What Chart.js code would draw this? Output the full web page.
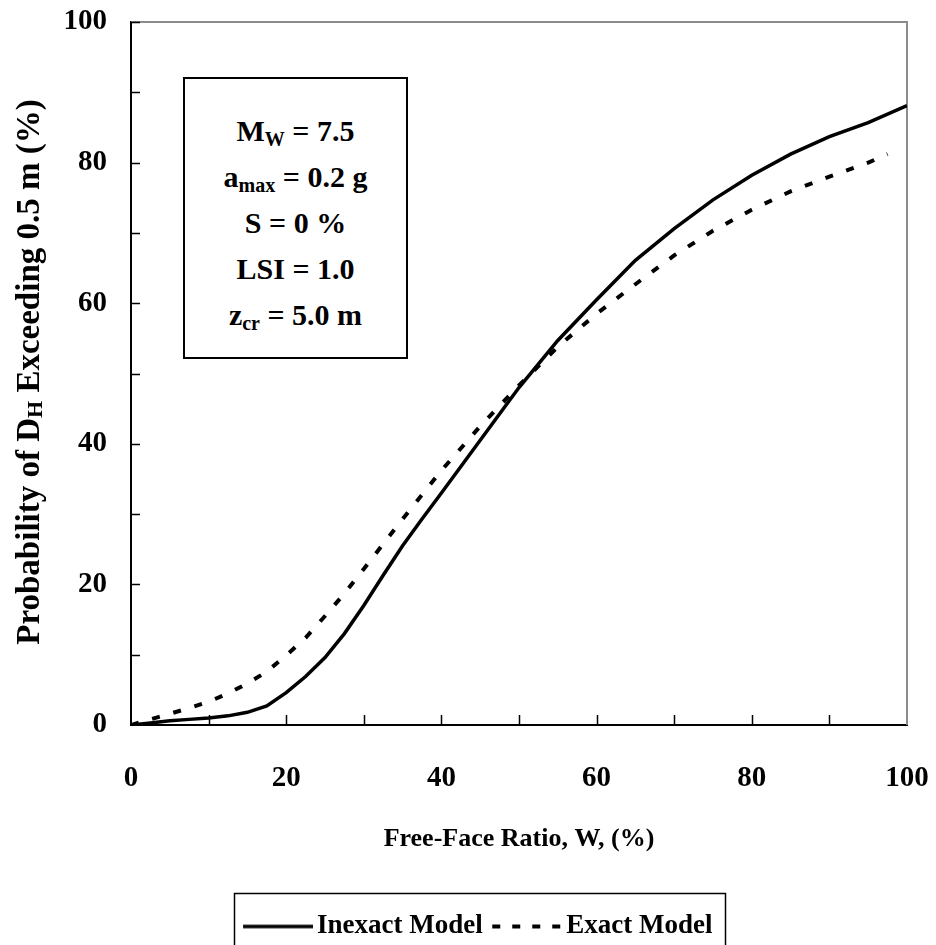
<!DOCTYPE html>
<html><head><meta charset="utf-8">
<script src="https://cdn.jsdelivr.net/npm/chart.js@4"></script>
<style>
html,body{margin:0;padding:0;background:#fff;}
#wrap{position:relative;width:936px;height:945px;overflow:hidden;background:#fff;}
#c{position:absolute;left:0;top:0;}
.box{position:absolute;left:183px;top:77px;width:225px;height:282px;box-sizing:border-box;border:2px solid #000;background:#fff;
 font-family:"Liberation Serif","Times New Roman",serif;font-weight:bold;font-size:30px;text-align:center;padding-top:29px;line-height:46px;color:#000;}
.box sub{font-size:20px;vertical-align:baseline;position:relative;top:5px;line-height:0;}
.ytitle{position:absolute;left:-272px;top:352px;width:600px;height:40px;line-height:40px;text-align:center;transform:rotate(-90deg);transform-origin:50% 50%;
 font-family:"Liberation Serif","Times New Roman",serif;font-weight:bold;font-size:33px;color:#000;white-space:nowrap;}
.ytitle sub{font-size:22px;vertical-align:baseline;position:relative;top:3px;line-height:0;}
</style></head>
<body>
<div id="wrap">
<canvas id="c" width="936" height="945"></canvas>
<div class="box">
<div>M<sub>W</sub> = 7.5</div>
<div>a<sub>max</sub> = 0.2 g</div>
<div>S = 0 %</div>
<div>LSI = 1.0</div>
<div>z<sub>cr</sub> = 5.0 m</div>
</div>
<div class="ytitle">Probability of D<sub>H</sub> Exceeding 0.5 m (%)</div>
</div>
<script>
const seriesNames = ['Inexact Model', 'Exact Model'];
const wInexact = [0, 2.5, 5, 7.5, 10, 12.5, 15, 17.5, 20, 22.5, 25, 27.5, 30, 32.5, 35, 37.5, 40, 45, 50, 55, 60, 65, 70, 75, 80, 85, 90, 95, 100];
const pInexact = [0, 0.3, 0.6, 0.8, 1.0, 1.3, 1.8, 2.7, 4.6, 6.9, 9.6, 13.0, 17.0, 21.3, 25.5, 29.3, 33.0, 40.5, 48.0, 54.7, 60.5, 66.1, 70.6, 74.7, 78.2, 81.2, 83.7, 85.7, 88.1];
const wExact = [0, 2.5, 5, 7.5, 10, 12.5, 15, 17.5, 20, 22.5, 25, 27.5, 30, 35, 40, 45, 50, 55, 60, 65, 70, 75, 80, 85, 90, 95, 97.5];
const pExact = [0, 0.8, 1.6, 2.4, 3.3, 4.5, 5.9, 7.6, 9.9, 12.4, 15.5, 18.7, 22.2, 29.3, 36.2, 42.5, 48.3, 53.8, 58.5, 62.7, 66.8, 70.3, 73.3, 75.9, 78.0, 80.0, 81.2];
const xTickValues = [0, 20, 40, 60, 80, 100];
const yTickValues = [0, 20, 40, 60, 80, 100];
const xTitle = 'Free-Face Ratio, W, (%)';

const FONT = '"Liberation Serif", "Times New Roman", serif';
const PLOT_BOTTOM = 725;
const PAD = {left: 49, right: 29, top: 22, bottom: -5};

const toPts = (xs, ys) => xs.map((x, i) => ({x: x, y: ys[i]}));

function sample(width, dash) {
  const cv = document.createElement('canvas');
  cv.width = 79; cv.height = 8;
  const g = cv.getContext('2d');
  g.strokeStyle = '#000';
  g.lineWidth = width;
  g.setLineDash(dash);
  g.beginPath(); g.moveTo(9, 4); g.lineTo(79, 4); g.stroke();
  return cv;
}

const frameTicks = {
  id: 'frameTicks',
  beforeDatasetsDraw(chart) {
    const {ctx, chartArea: a} = chart;
    ctx.save();
    ctx.strokeStyle = '#8c8c8c';
    ctx.lineWidth = 2;
    ctx.beginPath();
    ctx.moveTo(a.left, a.top); ctx.lineTo(a.right, a.top); ctx.lineTo(a.right, a.bottom);
    ctx.stroke();
    ctx.strokeStyle = '#000';
    ctx.lineWidth = 1.5;
    const xs = chart.scales.x, ys = chart.scales.y;
    ctx.beginPath();
    for (let v = 10; v < 100; v += 10) {
      const px = Math.round(xs.getPixelForValue(v)) + 0.5;
      ctx.moveTo(px, a.bottom); ctx.lineTo(px, a.bottom - 10);
    }
    for (let v = 10; v <= 100; v += 10) {
      const py = Math.round(ys.getPixelForValue(v)) + 0.5;
      ctx.moveTo(a.left, py); ctx.lineTo(a.left + 9, py);
    }
    ctx.stroke();
    ctx.restore();
  },
  afterDraw(chart) {
    const lg = chart.legend;
    if (!lg || !lg.legendHitBoxes || !lg.legendHitBoxes.length) return;
    const hb = lg.legendHitBoxes;
    const first = hb[0], last = hb[hb.length - 1];
    const left = first.left - 10, right = last.left + last.width + 12;
    const {ctx} = chart;
    ctx.save();
    ctx.strokeStyle = '#000';
    ctx.lineWidth = 1.5;
    ctx.strokeRect(Math.round(left) + 0.5, 893.5, Math.round(right - left), 80);
    ctx.restore();
  }
};

new Chart(document.getElementById('c'), {
  type: 'line',
  data: {
    datasets: [
      {label: seriesNames[0], data: toPts(wInexact, pInexact), borderColor: '#000', backgroundColor: '#000',
       borderWidth: 3.5, pointRadius: 0, pointStyle: sample(3.5, []), tension: 0, fill: false},
      {label: seriesNames[1], data: toPts(wExact, pExact), borderColor: '#000', backgroundColor: '#000',
       borderWidth: 4, borderDash: [8, 14], pointRadius: 0, pointStyle: sample(4, [8, 12]), tension: 0, fill: false}
    ]
  },
  options: {
    responsive: false,
    animation: false,
    devicePixelRatio: 1,
    layout: {padding: PAD},
    plugins: {
      tooltip: {enabled: false},
      legend: {
        position: 'bottom',
        labels: {
          usePointStyle: true, pointStyleWidth: 60,
          color: '#000', padding: 10,
          font: {family: FONT, weight: 'bold', size: 27}
        }
      }
    },
    scales: {
      x: {
        type: 'linear', min: 0, max: 100,
        afterFit(s) {
          const lgH = s.chart.legend ? s.chart.legend.height : 0;
          s.height = s.chart.height - PAD.bottom - PLOT_BOTTOM - lgH;
          s.paddingLeft = 0; s.paddingRight = 0;
        },
        afterBuildTicks(s) { s.ticks = xTickValues.map(v => ({value: v})); },
        grid: {display: true, drawOnChartArea: false, drawTicks: false},
        border: {display: true, color: '#000', width: 2},
        ticks: {color: '#000', padding: 36, font: {family: FONT, weight: 'bold', size: 29}},
        title: {display: true, text: xTitle, color: '#000', padding: {top: 0, bottom: 48}, font: {family: FONT, weight: 'bold', size: 26}}
      },
      y: {
        type: 'linear', min: 0, max: 100,
        afterFit(s) { s.width = 131 - PAD.left; s.paddingTop = 0; s.paddingBottom = 0; },
        afterBuildTicks(s) { s.ticks = yTickValues.map(v => ({value: v})); },
        grid: {display: true, drawOnChartArea: false, drawTicks: false},
        border: {display: true, color: '#000', width: 2},
        ticks: {color: '#000', padding: 24, font: {family: FONT, weight: 'bold', size: 29}}
      }
    }
  },
  plugins: [frameTicks]
});
</script>
</body></html>
